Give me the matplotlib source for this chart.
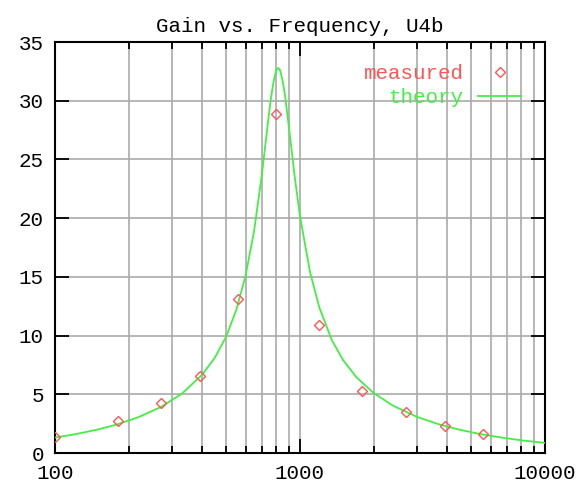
import matplotlib
matplotlib.use('Agg')
import matplotlib.pyplot as plt
from matplotlib.ticker import FixedLocator, NullFormatter

## Data
meas_freq = [100, 180, 270, 390, 560, 800, 1200, 1800, 2700, 3900, 5600]
meas_gain = [1.4, 2.7, 4.3, 6.6, 13.1, 28.9, 10.9, 5.3, 3.5, 2.3, 1.6]

theory_freq = [100, 120, 150, 180, 220, 270, 330, 400, 450, 500, 550, 600,
               650, 700, 740, 760, 780, 800, 815, 830, 850, 870, 900, 950,
               1000, 1100, 1200, 1350, 1500, 1700, 2000, 2400, 3000, 3700,
               4500, 5500, 6800, 8200, 10000]
theory_gain = [1.32, 1.59, 2.01, 2.45, 3.07, 3.91, 5.06, 6.70, 8.14, 9.92,
               12.2, 15.1, 18.9, 23.8, 28.1, 30.1, 31.6, 32.6, 32.8, 32.6,
               31.7, 30.4, 27.9, 23.7, 20.2, 15.4, 12.4, 9.61, 7.92, 6.46,
               5.11, 4.03, 3.09, 2.44, 1.98, 1.60, 1.29, 1.06, 0.87]

x_ticks = [100, 1000, 10000]
y_ticks = [0, 5, 10, 15, 20, 25, 30, 35]
x_minor = [f * m for f in (100, 1000) for m in range(2, 10)]

red = '#ff5555'
green = '#44ee44'
font = 'Liberation Mono'
fs = 15

fig = plt.figure(figsize=(5.79, 4.83), dpi=100)
ax = fig.add_axes([0.095, 0.062, 0.846, 0.851])

ax.set_xscale('log')
ax.set_xlim(100, 10000)
ax.set_ylim(0, 35)

ax.xaxis.set_major_locator(FixedLocator(x_ticks))
ax.xaxis.set_minor_locator(FixedLocator(x_minor))
ax.xaxis.set_minor_formatter(NullFormatter())
ax.set_xticks(x_ticks)
ax.set_xticklabels([str(t) for t in x_ticks])
ax.set_yticks(y_ticks)
ax.set_yticklabels([str(t) for t in y_ticks])

ax.grid(True, which='major', color='#aaaaaa', lw=1.2)
ax.grid(True, which='minor', axis='x', color='#aaaaaa', lw=1.2)
ax.set_axisbelow(True)

ax.tick_params(which='major', direction='in', length=10, width=1.3,
               top=True, right=True, labelsize=fs, pad=8)
ax.tick_params(which='minor', direction='in', length=5, width=1.3,
               top=True, right=True)
for lab in ax.get_xticklabels() + ax.get_yticklabels():
    lab.set_family(font)
for sp in ax.spines.values():
    sp.set_linewidth(1.5)

ax.plot(meas_freq, meas_gain, ls='none', marker='D', ms=5.5, mfc='none',
        mec=red, mew=1.0, label='measured', zorder=4)
ax.plot(theory_freq, theory_gain, color=green, lw=1.3, label='theory',
        zorder=3)

leg = ax.legend(loc='upper right', frameon=False, markerfirst=False,
                prop={'family': font, 'size': fs}, handlelength=2.07,
                handletextpad=0.7, labelspacing=0.25,
                bbox_to_anchor=(0.969, 0.967), borderaxespad=0)
for txt, c in zip(leg.get_texts(), [red, green]):
    txt.set_color(c)

ax.set_title('Gain vs. Frequency, U4b', family=font, fontsize=fs, pad=7)

fig.savefig('out.png', dpi=100)
